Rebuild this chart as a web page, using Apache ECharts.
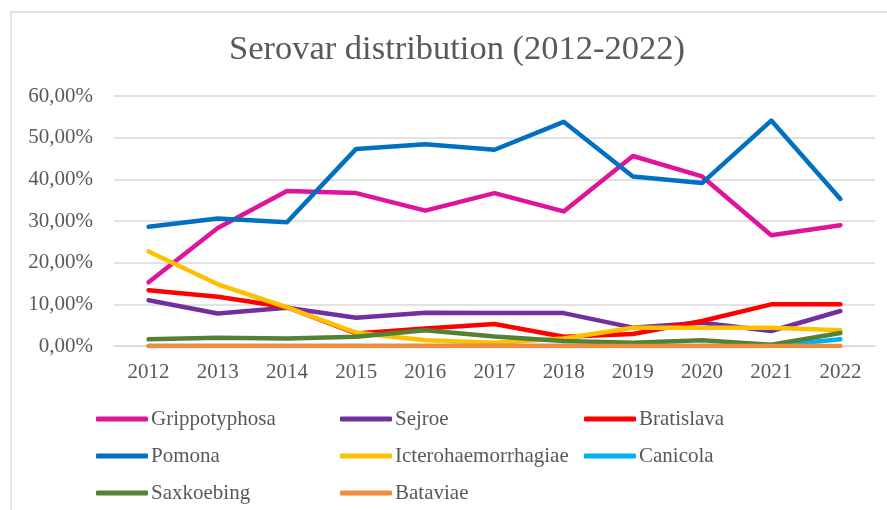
<!DOCTYPE html>
<html>
<head>
<meta charset="utf-8">
<script src="https://cdn.jsdelivr.net/npm/echarts@6/dist/echarts.min.js"></script>
<style>
  html, body { margin: 0; padding: 0; background: #fff; }
  #chart { width: 887px; height: 510px; }
</style>
</head>
<body>
<div id="chart"></div>
<script>
// Years on the category axis
const years = ['2012', '2013', '2014', '2015', '2016', '2017', '2018', '2019', '2020', '2021', '2022'];

// Share of each serovar per year, in percent
const grippotyphosa = [15.3, 28.3, 37.2, 36.7, 32.5, 36.7, 32.3, 45.6, 40.7, 26.6, 29.0];
const sejroe = [11.0, 7.8, 9.2, 6.8, 8.0, 7.9, 7.9, 4.4, 5.6, 3.6, 8.4];
const bratislava = [13.4, 11.8, 9.3, 3.0, 4.2, 5.3, 2.2, 2.9, 6.0, 10.0, 10.0];
const pomona = [28.6, 30.6, 29.7, 47.3, 48.4, 47.1, 53.8, 40.7, 39.1, 54.1, 35.3];
const icterohaemorrhagiae = [22.7, 14.8, 9.3, 3.2, 1.4, 0.8, 1.8, 4.4, 4.4, 4.4, 3.8];
const canicola = [0, 0, 0, 0, 0, 0, 0, 0, 0, 0, 1.6];
const saxkoebing = [1.6, 2.0, 1.8, 2.2, 3.8, 2.3, 1.2, 0.8, 1.4, 0.3, 3.1];
const bataviae = [0, 0, 0, 0, 0, 0, 0, 0, 0, 0, 0];

// Y axis ticks (percent)
const yMin = 0, yMax = 60, yStep = 10;

const seriesDefs = [
  { name: 'Grippotyphosa', data: grippotyphosa, color: '#E0139B' },
  { name: 'Sejroe', data: sejroe, color: '#7030A0' },
  { name: 'Bratislava', data: bratislava, color: '#FF0000' },
  { name: 'Pomona', data: pomona, color: '#0070C0' },
  { name: 'Icterohaemorrhagiae', data: icterohaemorrhagiae, color: '#FFC000' },
  { name: 'Canicola', data: canicola, color: '#00B0F0' },
  { name: 'Saxkoebing', data: saxkoebing, color: '#548235' },
  { name: 'Bataviae', data: bataviae, color: '#F08C3C' }
];

const FONT = '"Liberation Serif", "Times New Roman", serif';
const TEXT = '#595959';

// One vertical legend per column so the columns line up
function legendColumn(names, left) {
  return {
    data: names,
    orient: 'vertical',
    left: left,
    top: 408,
    width: 240,
    height: 200,
    padding: 0,
    itemWidth: 52,
    itemHeight: 5,
    itemGap: 15,
    icon: 'roundRect',
    selectedMode: false,
    textStyle: { fontFamily: FONT, fontSize: 21, color: TEXT, lineHeight: 22, padding: [0, 0, 0, -2] }
  };
}

const chart = echarts.init(document.getElementById('chart'), null, { renderer: 'canvas' });

chart.setOption({
  backgroundColor: '#ffffff',
  animation: false,
  title: {
    text: 'Serovar distribution (2012-2022)',
    left: 452,
    top: 27,
    textAlign: 'center',
    textStyle: { fontFamily: FONT, fontSize: 34.5, fontWeight: 'normal', color: TEXT }
  },
  graphic: [{
    type: 'rect',
    shape: { x: 11, y: 12, width: 900, height: 520 },
    style: { fill: 'none', stroke: '#d9d9d9', lineWidth: 1.5 },
    silent: true,
    z: -1
  }],
  legend: [
    legendColumn(['Grippotyphosa', 'Pomona', 'Saxkoebing'], 96),
    legendColumn(['Sejroe', 'Icterohaemorrhagiae', 'Bataviae'], 340),
    legendColumn(['Bratislava', 'Canicola'], 584)
  ],
  grid: { left: 114, right: 12, top: 96, bottom: 164, containLabel: false },
  xAxis: {
    type: 'category',
    data: years,
    boundaryGap: true,
    axisLine: { show: true, lineStyle: { color: '#d9d9d9', width: 1.5 } },
    axisTick: { show: false },
    axisLabel: { fontFamily: FONT, fontSize: 21, color: TEXT, margin: 16 }
  },
  yAxis: {
    type: 'value',
    min: yMin,
    max: yMax,
    interval: yStep,
    axisLine: { show: false },
    axisTick: { show: false },
    splitLine: { lineStyle: { color: '#d9d9d9', width: 1.5 } },
    axisLabel: {
      fontFamily: FONT, fontSize: 21, color: TEXT, margin: 21,
      formatter: v => v.toFixed(2).replace('.', ',') + '%'
    }
  },
  series: seriesDefs.map(s => ({
    name: s.name,
    type: 'line',
    data: s.data,
    symbol: 'none',
    color: s.color,
    lineStyle: { color: s.color, width: 4.5, cap: 'round', join: 'round' }
  }))
});
</script>
</body>
</html>
